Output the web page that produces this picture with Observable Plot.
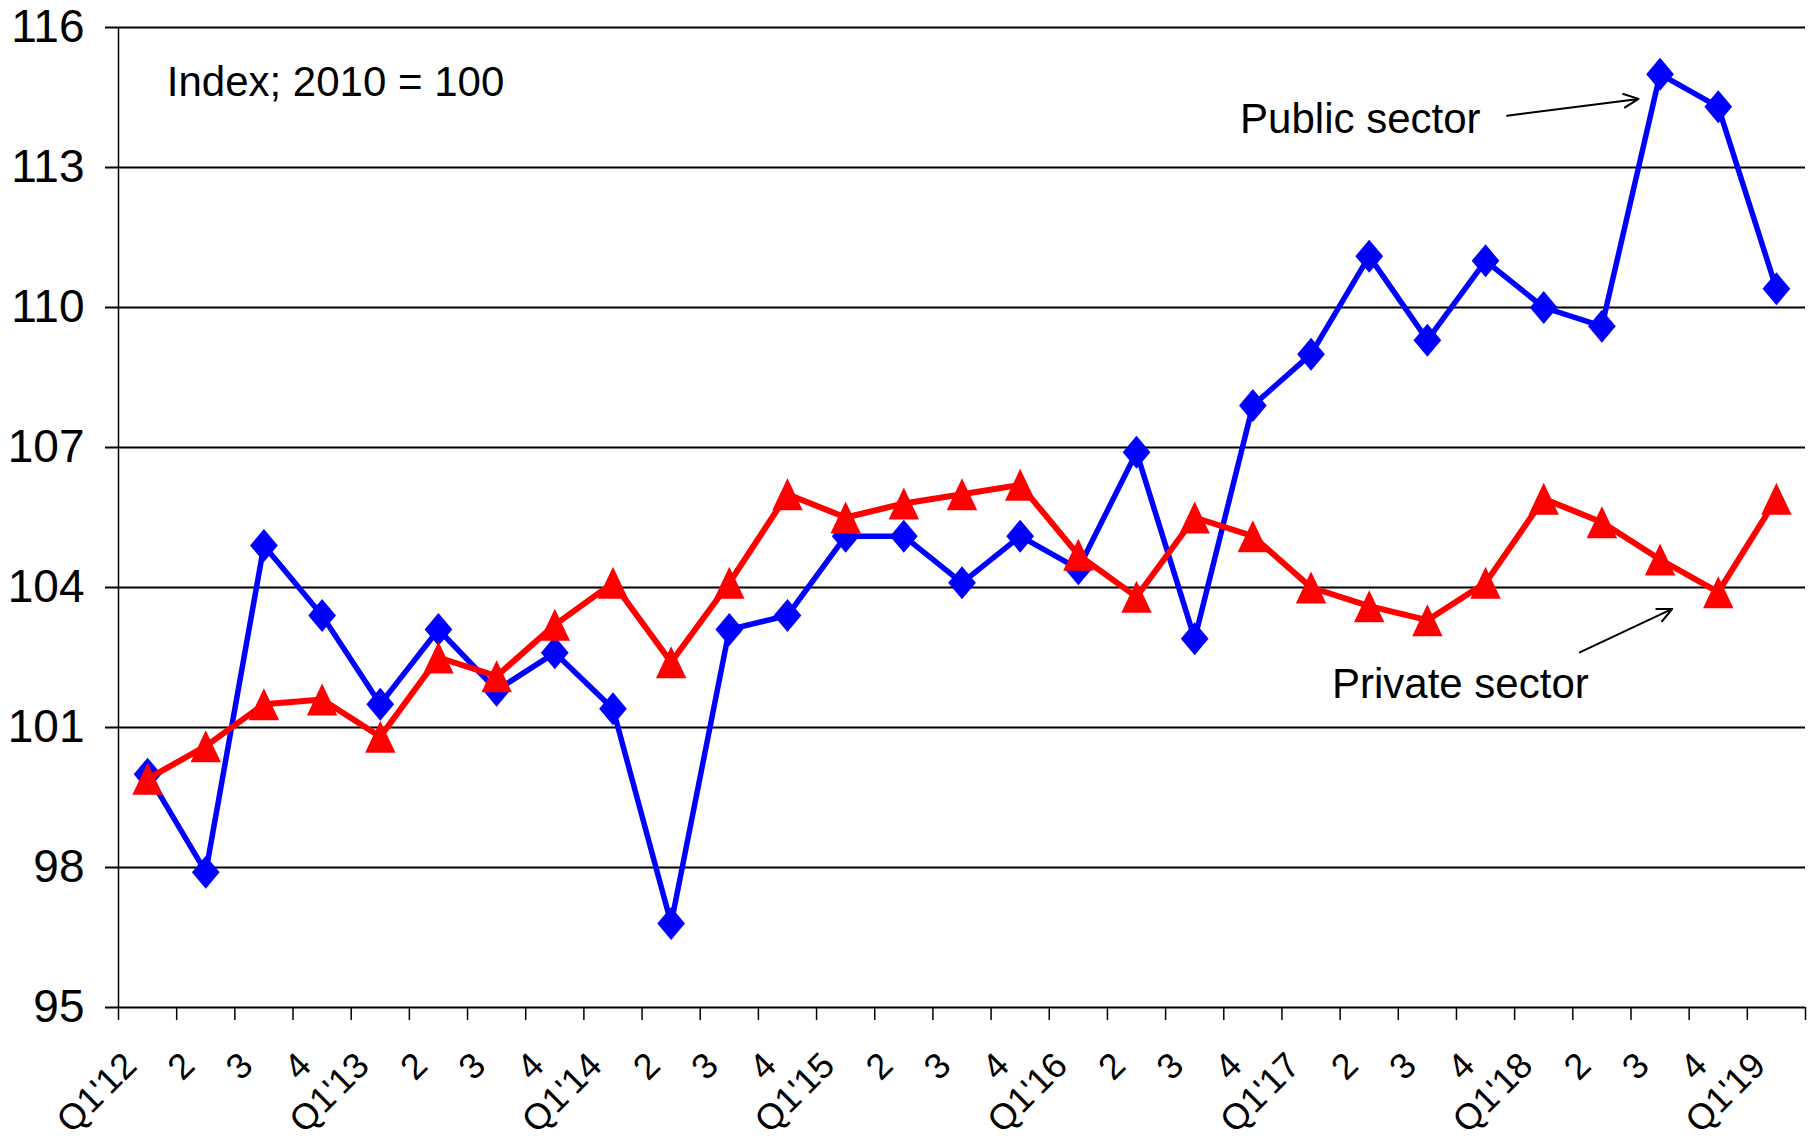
<!DOCTYPE html>
<html>
<head>
<meta charset="utf-8">
<script src="https://cdn.jsdelivr.net/npm/d3@7"></script>
<script src="https://cdn.jsdelivr.net/npm/@observablehq/plot@0.6"></script>
<style>
  html, body { margin: 0; padding: 0; background: #fff; }
  #chart svg { display: block; }
</style>
</head>
<body>
<div id="chart"></div>
<script>
// ---- Data ----
const quarterLabels = [
  "Q1'12", "2", "3", "4",
  "Q1'13", "2", "3", "4",
  "Q1'14", "2", "3", "4",
  "Q1'15", "2", "3", "4",
  "Q1'16", "2", "3", "4",
  "Q1'17", "2", "3", "4",
  "Q1'18", "2", "3", "4",
  "Q1'19"
];
const publicSector = [
  100.0, 97.9, 104.9, 103.4,
  101.5, 103.1, 101.8, 102.6,
  101.4, 96.8, 103.1, 103.4,
  105.1, 105.1, 104.1, 105.1,
  104.4, 106.9, 102.9, 107.9,
  109.0, 111.1, 109.3, 111.0,
  110.0, 109.6, 115.0, 114.3,
  110.4
];
const privateSector = [
  99.9, 100.6, 101.5, 101.6,
  100.8, 102.5, 102.1, 103.2,
  104.1, 102.4, 104.1, 106.0,
  105.5, 105.8, 106.0, 106.2,
  104.7, 103.8, 105.5, 105.1,
  104.0, 103.6, 103.3, 104.1,
  105.9, 105.4, 104.6, 103.9,
  105.9
];
const yTicks = [95, 98, 101, 104, 107, 110, 113, 116];
const unitNote = "Index; 2010 = 100";
const publicName = "Public sector";
const privateName = "Private sector";

// ---- Derived tables ----
const idx = quarterLabels.map((_, i) => i);
const publicData = publicSector.map((v, i) => ({i, v}));
const privateData = privateSector.map((v, i) => ({i, v}));
const boundaries = d3.range(quarterLabels.length + 1).map(k => k - 0.5);

// Annotation anchors in data space (category index, index value)
const notes = [
  {text: unitNote, i: 0.33, v: 114.53},
  {text: publicName, i: 18.78, v: 113.75},
  {text: privateName, i: 20.36, v: 101.64}
];
const arrows = [
  {i1: 23.37, v1: 114.11, i2: 25.63, v2: 114.47},
  {i1: 24.62, v1: 102.61, i2: 26.21, v2: 103.54}
];

// Marker shapes (Excel-like)
const diamond = {
  draw(ctx, size) {
    const r = Math.sqrt(size / Math.PI), w = r * 0.84;
    ctx.moveTo(0, -r); ctx.lineTo(w, 0); ctx.lineTo(0, r); ctx.lineTo(-w, 0); ctx.closePath();
  }
};
const triangle = {
  draw(ctx, size) {
    const r = Math.sqrt(size / Math.PI), w = r * 0.95;
    ctx.moveTo(0, -r); ctx.lineTo(w, r); ctx.lineTo(-w, r); ctx.closePath();
  }
};

const FONT = "'Liberation Sans', Arial, Helvetica, sans-serif";

const chart = Plot.plot({
  width: 1816,
  height: 1145,
  marginLeft: 118,
  marginRight: 11,
  marginTop: 27,
  marginBottom: 138,
  style: {fontFamily: FONT, fontSize: "42px", color: "black", background: "white"},
  x: {type: "linear", domain: [-0.5, quarterLabels.length - 0.5]},
  y: {domain: [95, 116]},
  marks: [
    // horizontal gridlines
    Plot.ruleY(yTicks, {stroke: "black", strokeWidth: 2}),
    // y axis with ticks and labels
    Plot.axisY({ticks: yTicks, tickSize: 13, tickPadding: 21, fontSize: 46, strokeWidth: 2, label: null, tickFormat: d => String(d)}),
    // vertical y-axis line
    Plot.ruleX([-0.5], {y1: 95, y2: 116, stroke: "black", strokeWidth: 1.5}),
    // x tick marks at category boundaries
    Plot.axisX({ticks: boundaries, tickSize: 13, tickFormat: () => "", strokeWidth: 1.5, label: null}),
    // rotated category labels
    Plot.text(idx, {
      x: d => d, text: d => quarterLabels[d],
      frameAnchor: "bottom", rotate: -45, textAnchor: "end", lineAnchor: "bottom",
      dx: -9, dy: 60, fontSize: 36, fill: "black"
    }),
    // public sector
    Plot.line(publicData, {x: "i", y: "v", stroke: "#0000ff", strokeWidth: 5.5}),
    Plot.dot(publicData, {x: "i", y: "v", symbol: diamond, r: 16.5, fill: "#0000ff", stroke: "none"}),
    // private sector
    Plot.line(privateData, {x: "i", y: "v", stroke: "#ff0000", strokeWidth: 6}),
    Plot.dot(privateData, {x: "i", y: "v", symbol: triangle, r: 16, fill: "#ff0000", stroke: "none"}),
    // annotations
    Plot.text(notes, {x: "i", y: "v", text: "text", textAnchor: "start", lineAnchor: "bottom", fontSize: 42, fill: "black"}),
    Plot.arrow(arrows, {x1: "i1", y1: "v1", x2: "i2", y2: "v2", stroke: "black", strokeWidth: 2, headLength: 12, headAngle: 50})
  ]
});

document.getElementById("chart").appendChild(chart);
</script>
</body>
</html>
